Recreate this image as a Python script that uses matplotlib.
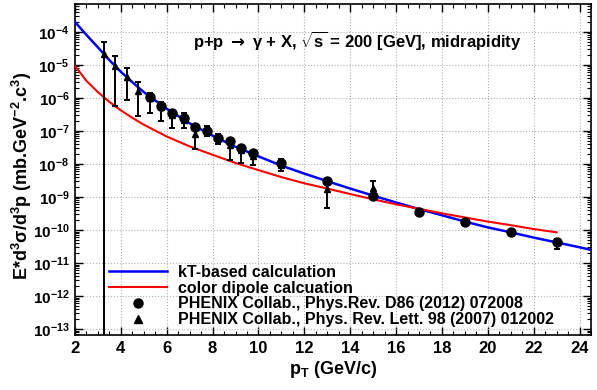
"""
Direct photon spectrum in p+p at sqrt(s)=200 GeV: kT-based and color dipole
calculations compared with PHENIX data.
"""

import numpy as np
import matplotlib
matplotlib.use("Agg")
import matplotlib.pyplot as plt
from matplotlib.ticker import MultipleLocator, LogLocator, FuncFormatter, NullFormatter
from matplotlib.lines import Line2D

plt.rcParams['font.family'] = ['Liberation Sans', 'DejaVu Sans']
plt.rcParams['font.weight'] = 'bold'
plt.rcParams['mathtext.fontset'] = 'custom'
plt.rcParams['mathtext.rm'] = 'Liberation Sans:bold'
plt.rcParams['mathtext.bf'] = 'Liberation Sans:bold'
plt.rcParams['mathtext.it'] = 'Liberation Sans:bold'
plt.rcParams['mathtext.sf'] = 'DejaVu Sans'
plt.rcParams['mathtext.default'] = 'bf'

# -------------------------------
# Curves
# -------------------------------
kt_pt = [2, 2.5, 3, 3.5, 4, 4.5, 5, 6, 7, 8, 9, 10, 11, 12, 13, 14, 15, 16,
         17, 18, 19, 20, 21, 22, 23, 24, 24.5]
kt_val = [2.0e-4, 8.1e-5, 3.4e-5, 1.4e-5, 6.2e-6, 3.0e-6, 1.5e-6, 4.7e-7,
          1.7e-7, 7.2e-8, 3.3e-8, 1.7e-8, 8.9e-9, 5.1e-9, 3.0e-9, 1.8e-9,
          1.1e-9, 6.8e-10, 4.3e-10, 2.8e-10, 1.8e-10, 1.2e-10, 8.5e-11,
          5.9e-11, 4.2e-11, 3.0e-11, 2.5e-11]

cd_pt = [2, 2.5, 3, 3.5, 4, 4.5, 5, 6, 7, 8, 9, 10, 11, 12, 13, 14, 15, 16,
         17, 18, 19, 20, 21, 22, 23]
cd_val = [9.3e-6, 3.3e-6, 1.5e-6, 7.6e-7, 4.2e-7, 2.5e-7, 1.55e-7, 6.8e-8,
          3.4e-8, 1.9e-8, 1.07e-8, 6.5e-9, 4.0e-9, 2.6e-9, 1.8e-9, 1.23e-9,
          8.5e-10, 6.0e-10, 4.4e-10, 3.2e-10, 2.4e-10, 1.8e-10, 1.4e-10,
          1.07e-10, 8.5e-11]

# -------------------------------
# PHENIX data
# -------------------------------
# Phys.Rev. D86 (2012) 072008 -> circles
d12_pt = [5.25, 5.75, 6.25, 6.75, 7.25, 7.75, 8.25, 8.75, 9.25, 9.75, 11,
          13, 15, 17, 19, 21, 23]
d12_val = [1.07e-6, 5.7e-7, 3.4e-7, 2.4e-7, 1.3e-7, 1.0e-7, 6.3e-8, 4.8e-8,
           3.0e-8, 2.1e-8, 1.07e-8, 3.1e-9, 1.07e-9, 3.5e-10, 1.7e-10,
           8.7e-11, 4.2e-11]
d12_lo = [9.0e-7, 4.9e-7, 2.9e-7, 2.1e-7, 1.15e-7, 8.8e-8, 5.6e-8, 4.2e-8,
          2.6e-8, 1.85e-8, 9.5e-9, 2.8e-9, 9.6e-10, 3.1e-10, 1.5e-10,
          7.6e-11, 2.75e-11]
d12_hi = [1.25e-6, 6.6e-7, 3.9e-7, 2.75e-7, 1.45e-7, 1.12e-7, 7.0e-8,
          5.4e-8, 3.4e-8, 2.35e-8, 1.2e-8, 3.4e-9, 1.18e-9, 3.9e-10,
          1.9e-10, 9.8e-11, 5.5e-11]

# Phys. Rev. Lett. 98 (2007) 012002 -> triangles
d07_pt = [3.25, 3.75, 4.25, 4.75, 5.25, 5.75, 6.25, 6.75, 7.25, 7.75, 8.25,
          8.75, 9.25, 9.75, 11, 13, 15]
d07_val = [2.1e-5, 9.5e-6, 4.3e-6, 1.6e-6, 1.0e-6, 5.2e-7, 3.0e-7, 2.2e-7,
           8.0e-8, 1.0e-7, 6.0e-8, 3.8e-8, 2.6e-8, 1.8e-8, 9.0e-9, 1.7e-9,
           1.9e-9]
d07_lo = [1e-14, 5.7e-7, 8.9e-7, 2.9e-7, 3.4e-7, 2.0e-7, 1.26e-7, 1.26e-7,
          2.9e-8, 7.0e-8, 4.0e-8, 1.35e-8, 1.07e-8, 9.5e-9, 6.0e-9, 4.5e-10,
          1.0e-9]
d07_hi = [4.9e-5, 1.9e-5, 7.9e-6, 3.0e-6, 1.4e-6, 7.5e-7, 4.2e-7, 3.5e-7,
          1.2e-7, 1.4e-7, 8.0e-8, 5.0e-8, 3.5e-8, 2.5e-8, 1.4e-8, 2.5e-9,
          3.0e-9]

fig = plt.figure(figsize=(5.97, 3.90), dpi=100)
ax = fig.add_axes([75/597, 1-335/390, (591-75)/597, (335-4)/390])

ax.plot(kt_pt, kt_val, color="#0000ff", lw=1.8, zorder=3)
ax.plot(cd_pt, cd_val, color="#ff0000", lw=1.5, zorder=3)

def err(v, lo, hi):
    v = np.array(v); return [v - np.array(lo), np.array(hi) - v]

ax.errorbar(d07_pt, d07_val, yerr=err(d07_val, d07_lo, d07_hi), fmt='^',
            color='k', ms=5, lw=1.4, capsize=2.5, capthick=1.4, zorder=4)
ax.errorbar(d12_pt, d12_val, yerr=err(d12_val, d12_lo, d12_hi), fmt='o',
            color='k', ms=6.5, lw=1.4, capsize=2.5, capthick=1.4, zorder=5)

ax.set_xlim(2, 24.5)
ax.set_yscale('log')
ax.set_ylim(6.6e-14, 7e-4)

ax.xaxis.set_major_locator(MultipleLocator(2))
ax.xaxis.set_minor_locator(MultipleLocator(0.5))
ax.yaxis.set_major_locator(LogLocator(base=10, numticks=20))
ax.yaxis.set_minor_locator(LogLocator(base=10, subs=np.arange(2, 10), numticks=20))
ax.yaxis.set_major_formatter(FuncFormatter(lambda v, p: r'$10^{%d}$' % int(round(np.log10(v)))))
ax.yaxis.set_minor_formatter(NullFormatter())

ax.tick_params(which='both', direction='in', top=True, right=True)
ax.tick_params(axis='x', labelsize=12)
ax.tick_params(axis='y', labelsize=11)
ax.tick_params(which='major', length=6, width=1, pad=4)
ax.tick_params(which='minor', length=3, width=0.8)
ax.grid(True, which='major', linestyle=':', color='#b0b0b0', lw=0.8)
for s in ax.spines.values():
    s.set_linewidth(1.2)

ax.set_xlabel(r'p$_\mathbf{T}$ (GeV/c)', fontsize=13, fontweight='bold')
ax.xaxis.set_label_coords(0.5, -0.072)
ax.set_ylabel(r'E*d$^3\sigma$/d$^3$p (mb.GeV$^{-2}$.c$^3$)', fontsize=13,
              fontweight='bold')
ax.yaxis.set_label_coords(-0.08, 0.48)

ax.text(0.229, 0.891,
        r'p+p $\mathsf{\rightarrow}$ γ + X, $\sqrt{s}$ = 200 [GeV], midrapidity',
        transform=ax.transAxes, fontsize=12, fontweight='bold',
        ha='left', va='center')

handles = [Line2D([], [], color="#0000ff", lw=1.8),
           Line2D([], [], color="#ff0000", lw=1.5),
           Line2D([], [], color='k', marker='o', ls='none', ms=6.5),
           Line2D([], [], color='k', marker='^', ls='none', ms=6)]
labels = ["kT-based calculation", "color dipole calcuation",
          "PHENIX Collab., Phys.Rev. D86 (2012) 072008",
          "PHENIX Collab., Phys. Rev. Lett. 98 (2007) 012002"]
ax.legend(handles, labels, loc='lower left', bbox_to_anchor=(0.045, -0.01),
          frameon=False, fontsize=11.5, handlelength=3.6, handletextpad=0.7,
          labelspacing=0.05, borderaxespad=0.3)

fig.savefig("out.png", dpi=100)
